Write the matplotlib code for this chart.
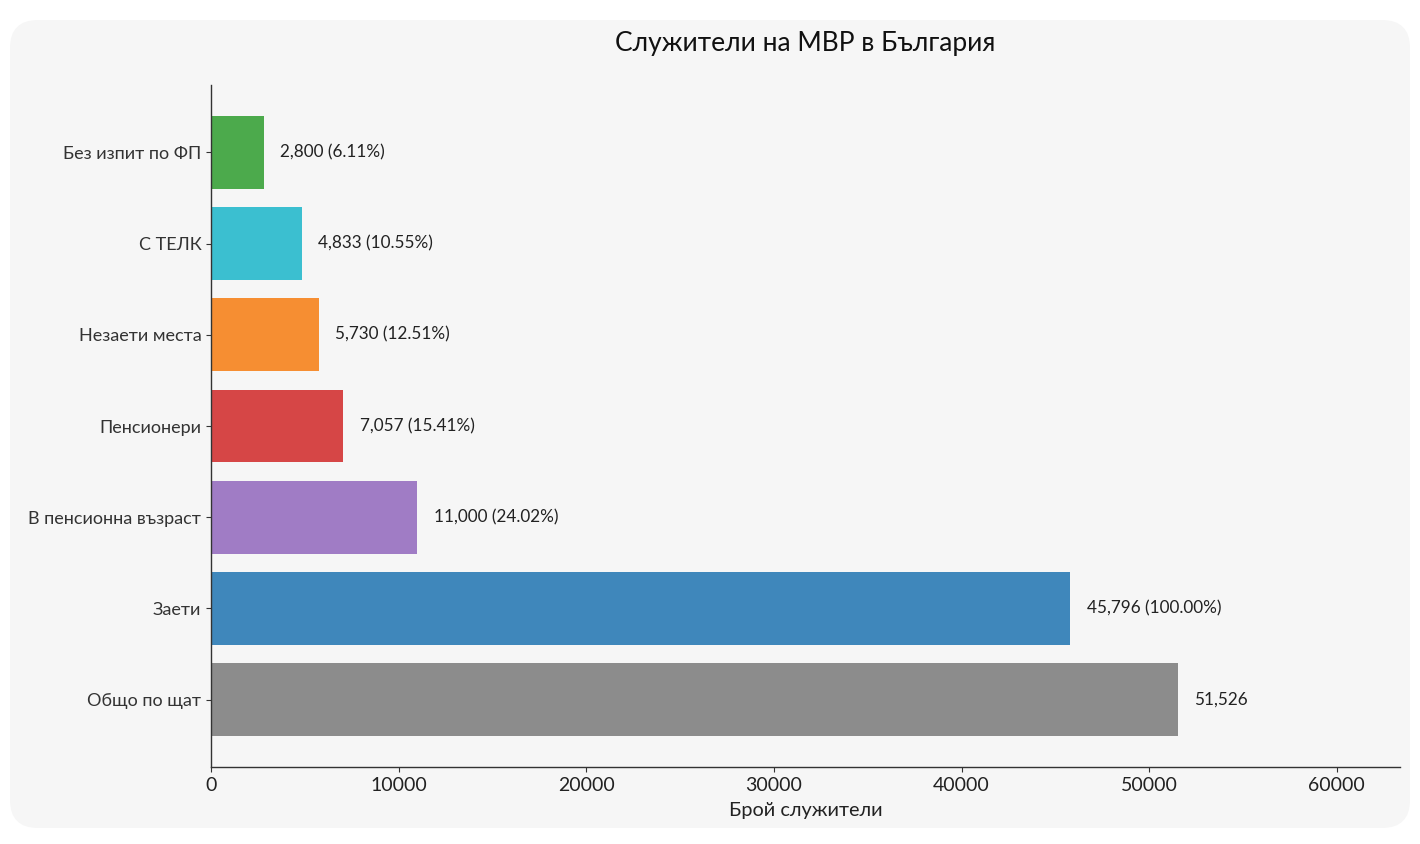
import matplotlib.pyplot as plt
from matplotlib.patches import FancyBboxPatch

categories = ['Общо по щат', 'Заети', 'В пенсионна възраст', 'Пенсионери',
              'Незаети места', 'С ТЕЛК', 'Без изпит по ФП']
values = [51526, 45796, 11000, 7057, 5730, 4833, 2800]
colors = ['#8c8c8c', '#3f87bb', '#a07cc5', '#d64646', '#f68e32', '#3bbfd0', '#4caa4c']

total_employed = values[1]

plt.rcParams['font.family'] = ['Lato', 'DejaVu Sans']

fig = plt.figure(figsize=(14.2, 8.44), dpi=100)
fig.patch.set_facecolor('white')

# rounded grey card behind the chart
card = FancyBboxPatch((0.1, 0.16), 14.0, 8.08, boxstyle='round,pad=0,rounding_size=0.28',
                      transform=fig.dpi_scale_trans, facecolor='#f6f6f6',
                      edgecolor='none', zorder=-5)
fig.patches.append(card)

ax = fig.add_axes([0.1486, 0.0912, 0.8374, 0.8081])
ax.set_facecolor('none')
ax.set_zorder(2)

ypos = list(range(len(categories)))
ax.barh(ypos, values, height=0.8, color=colors)

for y, v, name in zip(ypos, values, categories):
    if name == 'Общо по щат':
        txt = f'{v:,}'
    else:
        txt = f'{v:,} ({v / total_employed * 100:.2f}%)'
    ax.annotate(txt, (v, y), xytext=(12, 0), textcoords='offset points',
                va='center', ha='left', fontsize=12.3, color='#222222')

ax.set_yticks(ypos)
ax.set_yticklabels(categories, fontsize=13, color='#222222')
ax.set_xlim(0, max(values) * 1.23)
ax.set_xticks(range(0, 60001, 10000))
ax.tick_params(axis='x', labelsize=14, colors='#333333', labelcolor='#222222')
ax.tick_params(axis='y', colors='#333333')
ax.set_xlabel('Брой служители', fontsize=14.3, color='#222222', labelpad=6)
fig.text(0.567, 0.948, 'Служители на МВР в България', ha='center', va='center',
         fontsize=19, color='#111111')

for s in ['top', 'right']:
    ax.spines[s].set_visible(False)
for s in ['left', 'bottom']:
    ax.spines[s].set_color('#333333')
    ax.spines[s].set_linewidth(1.0)

fig.savefig('out.png', dpi=100, facecolor='white')
